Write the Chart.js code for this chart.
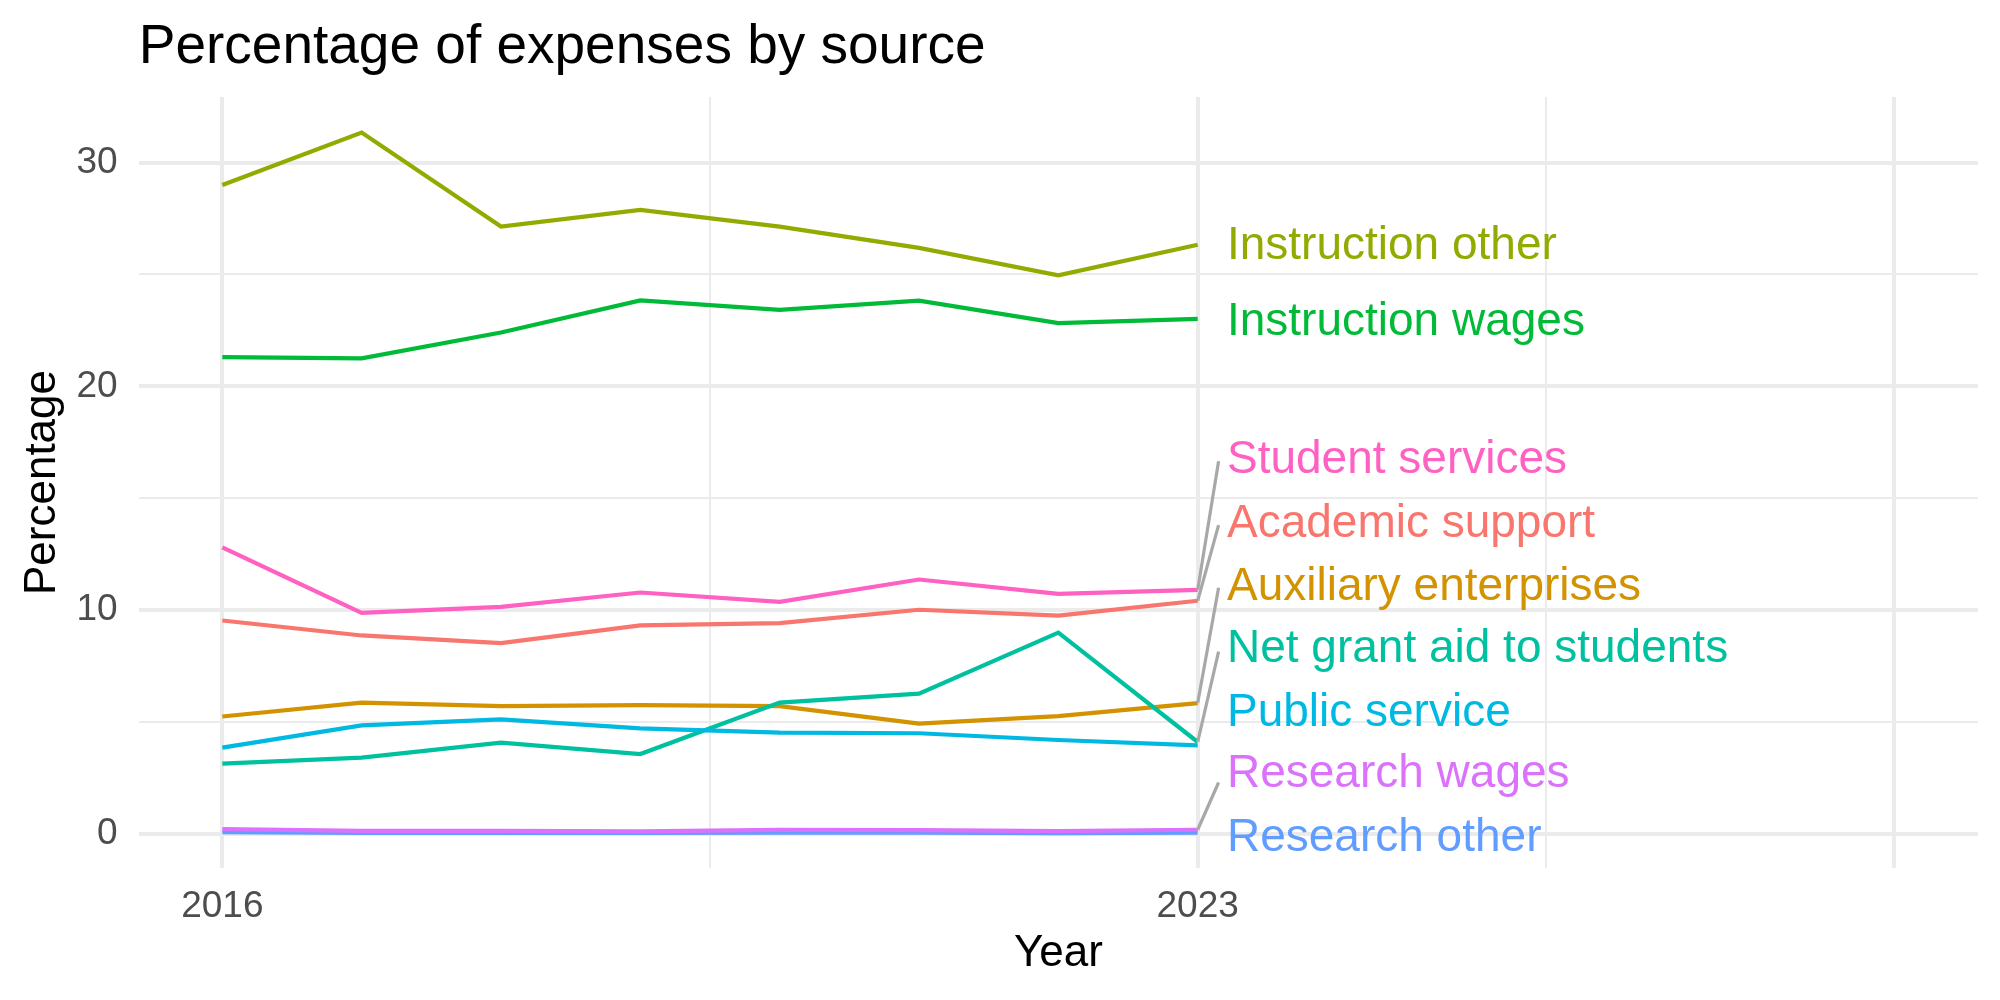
<!DOCTYPE html>
<html>
<head>
<meta charset="utf-8">
<script src="https://cdn.jsdelivr.net/npm/chart.js@4.4.1/dist/chart.umd.min.js"></script>
<style>
  html, body { margin: 0; padding: 0; background: #fff; }
  #wrap { width: 2000px; height: 1000px; }
</style>
</head>
<body>
<div id="wrap"><canvas id="expChart" width="2000" height="1000"></canvas></div>
<script>
// data
const years = [2016, 2017, 2018, 2019, 2020, 2021, 2022, 2023];

const academicSupport      = [9.54, 8.87, 8.53, 9.32, 9.42, 10.02, 9.76, 10.42];
const auxiliaryEnterprises = [5.25, 5.87, 5.71, 5.76, 5.71, 4.93, 5.27, 5.85];
const instructionOther     = [29.00, 31.34, 27.14, 27.89, 27.14, 26.19, 24.96, 26.33];
const instructionWages     = [21.31, 21.25, 22.41, 23.84, 23.42, 23.83, 22.83, 23.02];
const netGrantAid          = [3.14, 3.41, 4.08, 3.57, 5.87, 6.27, 9.00, 4.11];
const publicService        = [3.86, 4.85, 5.12, 4.72, 4.53, 4.50, 4.20, 3.96];
const researchOther        = [0.08, 0.05, 0.05, 0.05, 0.06, 0.06, 0.04, 0.06];
const researchWages        = [0.22, 0.14, 0.14, 0.12, 0.18, 0.17, 0.13, 0.19];
const studentServices      = [12.81, 9.88, 10.15, 10.79, 10.37, 11.37, 10.73, 10.91];

const seriesNames = [
  "Academic support", "Auxiliary enterprises", "Instruction other", "Instruction wages",
  "Net grant aid to students", "Public service", "Research other", "Research wages", "Student services"
];
const seriesValues = [
  academicSupport, auxiliaryEnterprises, instructionOther, instructionWages,
  netGrantAid, publicService, researchOther, researchWages, studentServices
];
const seriesColors = [
  "#F8766D", "#D39200", "#93AA00", "#00BA38", "#00C19F", "#00B9E3", "#619CFF", "#DB72FB", "#FF61C3"
];

// where the repelled labels sit (in data units), and where their leader lines end
const labelX = 2023.21;
const labelY = [13.83, 11.04, 26.24, 22.88, 8.25, 5.40, -0.18, 2.67, 16.68];
const segX = 2023.15;
const segEndY = [13.8, 11.0, null, null, 8.15, null, null, 2.3, 16.65];

// axis breaks
const xBreaks = [2016, 2023, 2028];
const xLabels = ["2016", "2023", ""];
const xMinor = [2019.5, 2025.5];
const yBreaks = [0, 10, 20, 30];
const yMinor = [5, 15, 25];

const FONT = '"Liberation Sans", Arial, Helvetica, sans-serif';
const GRID = "#EBEBEB";

let datasets = seriesNames.map((name, i) => ({
  label: name,
  data: years.map((yr, j) => ({ x: yr, y: seriesValues[i][j] })),
  borderColor: seriesColors[i],
  backgroundColor: seriesColors[i],
  borderWidth: 4.2,
  pointRadius: 0,
  tension: 0,
  order: seriesNames.length - i
}));

seriesNames.forEach((name, i) => {
  if (segEndY[i] === null) return;
  let last = seriesValues[i][seriesValues[i].length - 1];
  datasets.push({
    label: name + " segment",
    data: [{ x: years[years.length - 1], y: last }, { x: segX, y: segEndY[i] }],
    borderColor: "#A8A8A8",
    borderWidth: 3.2,
    pointRadius: 0,
    tension: 0,
    order: 0
  });
});

// the end-of-line labels
const endLabels = {
  id: "endLabels",
  afterDatasetsDraw(chart) {
    const { ctx, scales: { x, y } } = chart;
    ctx.save();
    ctx.font = "46px " + FONT;
    ctx.textAlign = "left";
    ctx.textBaseline = "middle";
    seriesNames.forEach((name, i) => {
      ctx.fillStyle = seriesColors[i];
      ctx.fillText(name, x.getPixelForValue(labelX), y.getPixelForValue(labelY[i]));
    });
    ctx.restore();
  }
};

const ctx = document.getElementById("expChart").getContext("2d");

const expChart = new Chart(ctx, {
  type: "line",
  data: { datasets: datasets },
  options: {
    responsive: false,
    animation: false,
    devicePixelRatio: 1,
    layout: { padding: { left: 0, right: 22, top: 0, bottom: 0 } },
    plugins: {
      legend: { display: false },
      tooltip: { enabled: false },
      title: {
        display: true,
        text: "Percentage of expenses by source",
        align: "start",
        fullSize: false,
        color: "#000000",
        font: { family: FONT, size: 55, weight: "normal", lineHeight: 1.2 },
        padding: { top: 14.5, bottom: 16.5 }
      }
    },
    scales: {
      x: {
        type: "linear",
        min: 2015.4,
        max: 2028.6,
        afterBuildTicks(scale) {
          scale.ticks = xBreaks.concat(xMinor).sort((a, b) => a - b).map(v => ({ value: v }));
        },
        afterFit(scale) { scale.height = 132; },
        ticks: {
          color: "#4D4D4D",
          font: { family: FONT, size: 37 },
          padding: 17,
          maxRotation: 0,
          autoSkip: false,
          callback(value) {
            let k = xBreaks.indexOf(value);
            return k >= 0 ? xLabels[k] : "";
          }
        },
        grid: {
          color: GRID,
          drawTicks: false,
          lineWidth(c) { return xBreaks.includes(c.tick.value) ? 4 : 2; }
        },
        border: { display: false },
        title: {
          display: true,
          text: "Year",
          color: "#000000",
          font: { family: FONT, size: 44, lineHeight: 1.2 },
          padding: { top: 0, bottom: 20 }
        }
      },
      y: {
        type: "linear",
        min: -1.52,
        max: 32.93,
        afterBuildTicks(scale) {
          scale.ticks = yBreaks.concat(yMinor).sort((a, b) => a - b).map(v => ({ value: v }));
        },
        afterFit(scale) { scale.width = 138.7; },
        ticks: {
          color: "#4D4D4D",
          font: { family: FONT, size: 37 },
          padding: 21,
          autoSkip: false,
          callback(value) { return yBreaks.includes(value) ? String(value) : ""; }
        },
        grid: {
          color: GRID,
          drawTicks: false,
          lineWidth(c) { return yBreaks.includes(c.tick.value) ? 4 : 2; }
        },
        border: { display: false },
        title: {
          display: true,
          text: "Percentage",
          color: "#000000",
          font: { family: FONT, size: 44, lineHeight: 1.2 },
          padding: { top: 16.5, bottom: 0 }
        }
      }
    }
  },
  plugins: [endLabels]
});
</script>
</body>
</html>
